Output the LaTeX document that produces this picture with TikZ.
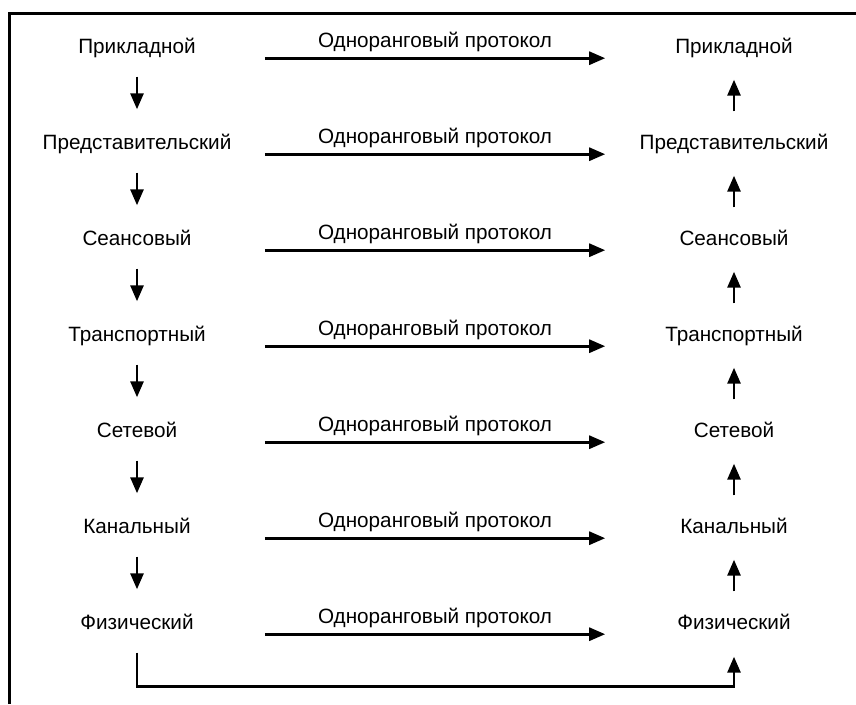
\documentclass[tikz,border=0pt]{standalone}
\usepackage{fontspec}
\setmainfont{Liberation Sans}
\usetikzlibrary{positioning,arrows.meta}
\newcommand{\peertext}{Одноранговый протокол}
\newcommand{\osifont}{\fontsize{20.7}{24}\selectfont}

\begin{document}
\begin{tikzpicture}[x=1pt,y=-1pt,
  layer/.style={font=\osifont,text height=15pt,text depth=4pt,inner xsep=0pt,inner ysep=19pt},
  peer/.style={font=\osifont,text height=15pt,text depth=4pt,minimum width=340pt,inner xsep=0pt,inner ysep=6.5pt},
  conn/.style={line width=2.8pt,-{Triangle[length=16pt,width=13pt]}}]
\useasboundingbox (0,0) rectangle (856,704);
\draw[line width=3pt] (9,704) -- (9,13) -- (856,13);
% layers, both sides
\foreach \name [count=\i] in {Прикладной,Представительский,Сеансовый,Транспортный,Сетевой,Канальный,Физический}{
  \node[layer] (l\i) at (137,{48+96*(\i-1)}) {\name};
  \node[layer] (r\i) at (734,{48+96*(\i-1)}) {\name};
  \node[peer] (p\i) at (435,{42+96*(\i-1)}) {\peertext};
  \draw[conn] (p\i.south west) -- (p\i.south east);
}
\foreach \i [evaluate=\i as \j using int(\i+1)] in {1,...,6}{
  \draw[conn,shorten >=6pt] (l\i) -- (l\j);
  \draw[conn,shorten <=4pt,shorten >=3pt] (r\j) -- (r\i);
}
\draw[conn,shorten >=4pt] (l7.south) -- ++(0,34) -| (r7.south);
\end{tikzpicture}
\end{document}
